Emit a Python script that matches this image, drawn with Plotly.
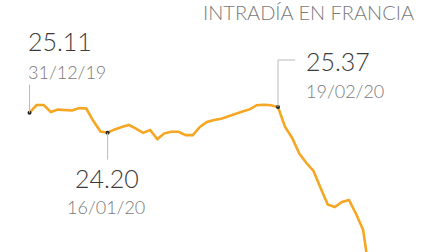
import plotly.graph_objects as go

# trading days from 31/12/2019
dates = ["2019-12-31", "2020-01-02", "2020-01-03", "2020-01-06", "2020-01-07", "2020-01-08",
         "2020-01-09", "2020-01-10", "2020-01-13", "2020-01-14", "2020-01-15", "2020-01-16",
         "2020-01-17", "2020-01-20", "2020-01-21", "2020-01-22", "2020-01-23", "2020-01-24",
         "2020-01-27", "2020-01-28", "2020-01-29", "2020-01-30", "2020-01-31", "2020-02-03",
         "2020-02-04", "2020-02-05", "2020-02-06", "2020-02-07", "2020-02-10", "2020-02-11",
         "2020-02-12", "2020-02-13", "2020-02-14", "2020-02-17", "2020-02-18", "2020-02-19",
         "2020-02-20", "2020-02-21", "2020-02-24", "2020-02-25", "2020-02-26", "2020-02-27",
         "2020-02-28", "2020-03-02", "2020-03-03", "2020-03-04", "2020-03-05", "2020-03-06",
         "2020-03-09"]
values = [25.11, 25.46, 25.46, 25.14, 25.25, 25.23, 25.21, 25.32, 25.30, 24.73, 24.25, 24.20,
          24.35, 24.46, 24.55, 24.39, 24.19, 24.32, 23.91, 24.17, 24.24, 24.24, 24.09, 24.09,
          24.46, 24.69, 24.78, 24.83, 24.95, 25.07, 25.16, 25.26, 25.45, 25.47, 25.45, 25.37,
          24.46, 23.96, 23.25, 22.82, 22.46, 21.68, 20.93, 20.82, 21.05, 21.14, 20.50, 19.77,
          17.50]

title_text = "INTRADÍA EN FRANCIA"
highlights = [  # (index, value label, date label)
    (0, "25.11", "31/12/19"),
    (11, "24.20", "16/01/20"),
    (35, "25.37", "19/02/20"),
]

idx = list(range(len(values)))
W, H = 448, 252
fig = go.Figure()
fig.add_trace(go.Scatter(x=idx, y=values, mode="lines",
                         line=dict(color="#F5A623", width=2.6, shape="linear"),
                         hoverinfo="skip", customdata=dates))
hx = [h[0] for h in highlights]
hy = [values[h[0]] for h in highlights]
fig.add_trace(go.Scatter(x=hx, y=hy, mode="markers",
                         marker=dict(color="#222222", size=4), hoverinfo="skip"))

FONT = "Lato"
numfont = dict(family=FONT, size=25, color="#3a3a3a", weight=300)
datefont = dict(family=FONT, size=18, color="#7a7a7a", weight=300)

def px(xp):
    return xp / W

def py(yp):
    return 1 - yp / H

anns = []
shapes = []
# 31/12/19
i, num, dt = highlights[0]
anns.append(dict(x=px(26), y=py(41), text=num, font=numfont))
anns.append(dict(x=px(26), y=py(72), text=dt, font=datefont))
shapes.append(dict(type="line", xref="x", yref="y", ysizemode="pixel", yanchor=values[i],
                   x0=i, x1=i, y0=0, y1=28, line=dict(color="#bbbbbb", width=1)))
# 16/01/20
i, num, dt = highlights[1]
anns.append(dict(x=px(107), y=py(178), text=num, font=numfont, xanchor="center"))
anns.append(dict(x=px(106), y=py(207), text=dt, font=datefont, xanchor="center"))
shapes.append(dict(type="line", xref="x", yref="y", ysizemode="pixel", yanchor=values[i],
                   x0=i, x1=i, y0=0, y1=-27, line=dict(color="#bbbbbb", width=1)))
# 19/02/20
i, num, dt = highlights[2]
anns.append(dict(x=px(304), y=py(61), text=num, font=numfont))
anns.append(dict(x=px(304), y=py(91), text=dt, font=datefont))
shapes.append(dict(type="line", xref="x", yref="y", ysizemode="pixel", yanchor=values[i],
                   x0=i, x1=i, y0=0, y1=47, line=dict(color="#bbbbbb", width=1)))
shapes.append(dict(type="line", xref="x", yref="y", xsizemode="pixel", ysizemode="pixel",
                   xanchor=i, yanchor=values[i], x0=0, x1=17, y0=47, y1=47,
                   line=dict(color="#bbbbbb", width=1)))
# title
anns.append(dict(x=px(416), y=py(12), text=title_text, xanchor="right",
                 font=dict(family=FONT, size=20, color="#7a7a7a", weight=300)))

for a in anns:
    a.setdefault("xanchor", "left")
    a["xref"] = "paper"
    a["yref"] = "paper"
    a["yanchor"] = "middle"
    a["showarrow"] = False

ppx = 248.5 / 35
xmin = -29.5 / ppx
xmax = xmin + W / ppx
ppy = 21.97
ymax = 25.11 + 112.7 / ppy
ymin = ymax - H / ppy

fig.update_layout(
    width=W, height=H, margin=dict(l=0, r=0, t=0, b=0),
    paper_bgcolor="white", plot_bgcolor="white", showlegend=False,
    xaxis=dict(range=[xmin, xmax], visible=False, fixedrange=True),
    yaxis=dict(range=[ymin, ymax], visible=False, fixedrange=True),
    annotations=anns, shapes=shapes,
)
fig.write_html("out.html", config={"displayModeBar": False})
